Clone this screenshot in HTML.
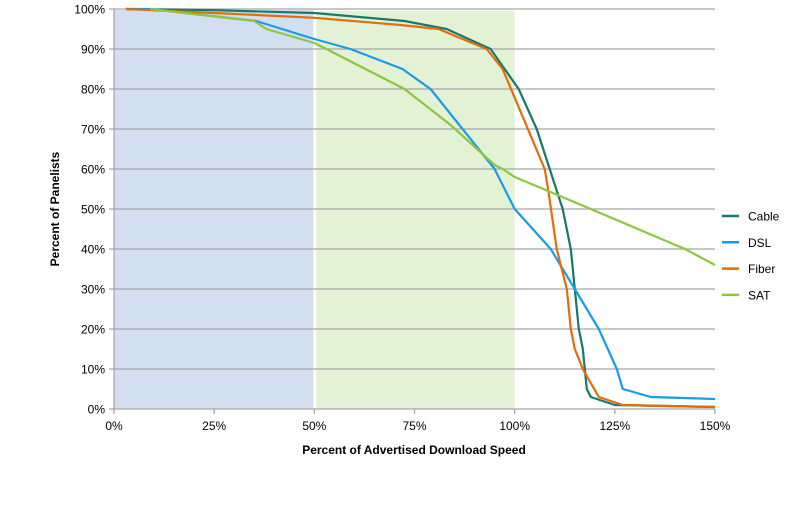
<!DOCTYPE html>
<html><head><meta charset="utf-8"><style>
body{margin:0;background:#fff;}
svg{display:block;font-family:"Liberation Sans",Arial,sans-serif;}
</style></head><body>
<svg id="chart" width="800" height="511"></svg>
<script>
const xTicks=[0,25,50,75,100,125,150];
const yTicks=[0,10,20,30,40,50,60,70,80,90,100];
const seriesNames=["Cable","DSL","Fiber","SAT"];
const cableX=[3,25,50,72.5,83,94,97.5,101,105.5,112,114,116,117,118,119,125,150];
const cableY=[100,99.7,99,97,95,90,85,80,70,50,40,20,15,5,3,1,0.5];
const dslX=[3,9,35.5,50,59,72,79,95,100,109,121,125.5,127,134,150];
const dslY=[100,100,97,92.5,90,85,80,60,50,40,20,10,5,3,2.5];
const fiberX=[3,25,50,71.5,81,93,97,107.5,108.5,110.5,113,114,115,117,121,127,150];
const fiberY=[100,99,97.8,96,95,90,85,60,54,40,30,20,15,10,3,1,0.5];
const satX=[9,35,38,50,53,72.5,84,95,97,100,119,142.5,150];
const satY=[100,97,95,91.5,90,80,71,61,60,58,50,40,36];
const colors=["#17796b","#1a9be8","#e46c0a","#8dc63f"];
const NS="http://www.w3.org/2000/svg";
const svg=document.getElementById('chart');
const X0=114,X1=715,Y0=409,Y1=9;
const xs=v=>X0+(X1-X0)*v/150;
const ys=v=>Y0-(Y0-Y1)*v/100;
function mk(t,a){const e=document.createElementNS(NS,t);for(const k in a)e.setAttribute(k,a[k]);svg.appendChild(e);return e;}
let r=mk('rect',{x:xs(0),y:10,width:xs(50)-xs(0)-1,height:Y0-10,fill:'#d3dfee'});


r=mk('rect',{x:xs(50)+2,y:11,width:xs(100)-xs(50)-2,height:Y0-11,fill:'#e3f2d5'});


yTicks.forEach(v=>{
 const l=mk('line',{x1:X0-5,x2:X1,y1:ys(v),y2:ys(v),stroke:'#a6a6a6','stroke-width':1.3});
 
 
 const t=mk('text',{x:X0-9,y:ys(v)+4.5,'text-anchor':'end','font-size':12,fill:'#000'});
 t.textContent=v+'%';
 
 
});
let ax=mk('line',{x1:X0,x2:X0,y1:Y1,y2:Y0,stroke:'#a6a6a6','stroke-width':1.3});


xTicks.forEach(v=>{
 const l=mk('line',{x1:xs(v),x2:xs(v),y1:Y0,y2:Y0+5,stroke:'#a6a6a6','stroke-width':1.3});
 
 
 const t=mk('text',{x:xs(v),y:Y0+21,'text-anchor':'middle','font-size':12,fill:'#000'});
 t.textContent=v+'%';
 
 
});
const data=[[cableX,cableY],[dslX,dslY],[fiberX,fiberY],[satX,satY]];
data.forEach((d,i)=>{
 const pts=d[0].map((x,j)=>xs(x).toFixed(1)+','+ys(d[1][j]).toFixed(1)).join(' ');
 const p=mk('polyline',{points:pts,fill:'none',stroke:colors[i],'stroke-width':2.2,'stroke-linejoin':'round'});
 
 
 const ly=216+i*26.3;
 const ll=mk('line',{x1:722,x2:739,y1:ly,y2:ly,stroke:colors[i],'stroke-width':2.5});
 
 
 const lt=mk('text',{x:748,y:ly+4.5,'font-size':12,fill:'#000'});
 lt.textContent=seriesNames[i];
 
 
});
let xt=mk('text',{x:414,y:454,'text-anchor':'middle','font-size':12,'font-weight':'bold'});
xt.textContent='Percent of Advertised Download Speed';


let yt=mk('text',{x:0,y:0,'text-anchor':'middle','font-size':12,'font-weight':'bold',transform:'translate(59,209) rotate(-90)'});
yt.textContent='Percent of Panelists';


</script>
</body></html>
